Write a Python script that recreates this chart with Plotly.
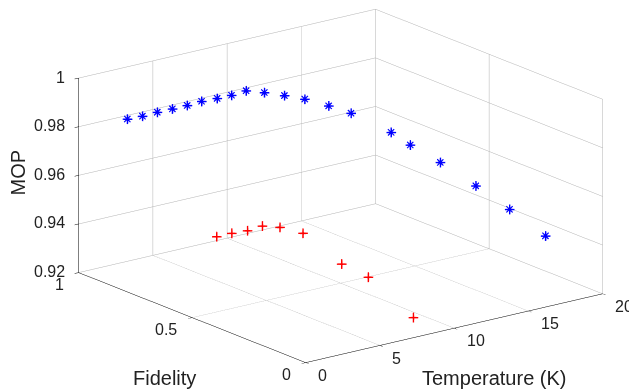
import plotly.graph_objects as go

# Blue series (*)
blue_T = [1, 2, 3, 4, 5, 6, 7, 8, 9, 10, 11, 12, 13, 14, 15, 16, 17, 18, 19, 20]
blue_F = [0.851, 0.850, 0.850, 0.849, 0.849, 0.851, 0.848, 0.850, 0.851, 0.836,
          0.813, 0.789, 0.749, 0.716, 0.605, 0.586, 0.519, 0.428, 0.345, 0.252]
blue_MOP = [0.9873, 0.9871, 0.9873, 0.9873, 0.9873, 0.9875, 0.9874, 0.9872, 0.9876, 0.9860,
            0.9842, 0.9822, 0.9795, 0.9763, 0.9711, 0.9652, 0.9591, 0.9514, 0.9434, 0.9345]

# Red series (+)
red_T = [1, 2, 3, 4, 5, 6, 7, 8, 9]
red_F = [0.458, 0.457, 0.453, 0.453, 0.441, 0.405, 0.300, 0.248, 0.115]
red_MOP = [0.9535, 0.9535, 0.9533, 0.9538, 0.9523, 0.9498, 0.9396, 0.9347, 0.9216]

T_ticks = [0, 5, 10, 15, 20]
T_labels = ["0", "5", "10", "15", "20"]
F_ticks = [0, 0.5, 1]
F_labels = ["0", "0.5", "1"]
MOP_ticks = [0.92, 0.94, 0.96, 0.98, 1]
MOP_labels = ["0.92", "0.94", "0.96", "0.98", "1"]

T_range = [0, 20]
F_range = [0, 1]
MOP_range = [0.92, 1]

TXT = "#222222"
FONT = "Liberation Sans"

fig = go.Figure()
fig.add_trace(go.Scatter3d(x=blue_T, y=blue_F, z=blue_MOP, mode="text", text=["+"] * len(blue_T),
                           textposition="middle center",
                           textfont=dict(size=20, color="blue", family=FONT),
                           hoverinfo="skip"))
fig.add_trace(go.Scatter3d(x=blue_T, y=blue_F, z=blue_MOP, mode="text", text=["×"] * len(blue_T),
                           textposition="middle center",
                           textfont=dict(size=16, color="blue", family=FONT),
                           hoverinfo="skip"))
fig.add_trace(go.Scatter3d(x=red_T, y=red_F, z=red_MOP, mode="text", text=["+"] * len(red_T),
                           textposition="middle center",
                           textfont=dict(size=20, color="red", family=FONT),
                           hoverinfo="skip"))

axis_common = dict(showbackground=False, gridcolor="rgb(178,178,178)", gridwidth=1,
                   showline=True, linecolor="black", linewidth=1, zeroline=False,
                   ticks="outside", ticklen=5, tickcolor="black", showspikes=False,
                   showticklabels=False, title=dict(text=""))

# tick labels placed MATLAB-style (horizontal, offset from the tick) at the tick values
tick_font = dict(family=FONT, size=16, color=TXT)
scene_ann = []
for v, s in zip(MOP_ticks, MOP_labels):
    scene_ann.append(dict(x=T_range[0], y=F_range[1], z=v, text=s, xanchor="right", yanchor="middle",
                          xshift=-12, yshift=1))
for v, s in zip(F_ticks, F_labels):
    scene_ann.append(dict(x=T_range[0], y=v, z=MOP_range[0], text=s, xanchor="right", yanchor="middle",
                          xshift=-13, yshift=-11.5))
for v, s in zip(T_ticks, T_labels):
    scene_ann.append(dict(x=v, y=F_range[0], z=MOP_range[0], text=s, xanchor="left", yanchor="middle",
                          xshift=10.5, yshift=-12.7))
for a in scene_ann:
    a.update(showarrow=False, font=tick_font)

K = 2.02 * 372 / 392 * 0.995
view_dir = (-0.5789, -0.7569, 0.3032)
cen = (-0.1154, 0.0687, -0.0490)
dist = 2.0
fig.update_layout(
    width=629, height=392,
    margin=dict(l=0, r=0, t=0, b=0),
    paper_bgcolor="white",
    showlegend=False,
    scene=dict(
        domain=dict(x=[0, 1.0], y=[0, 1.0]),
        xaxis=dict(range=T_range, tickvals=T_ticks, **axis_common),
        yaxis=dict(range=F_range, tickvals=F_ticks, **axis_common),
        zaxis=dict(range=MOP_range, tickvals=MOP_ticks, **axis_common),
        aspectmode="manual",
        aspectratio=dict(x=1 * K, y=1 * K, z=0.546 * K),
        camera=dict(eye=dict(x=cen[0] + dist * view_dir[0], y=cen[1] + dist * view_dir[1],
                             z=cen[2] + dist * view_dir[2]),
                    up=dict(x=0, y=0, z=1), center=dict(x=cen[0], y=cen[1], z=cen[2]),
                    projection=dict(type="orthographic")),
        annotations=scene_ann,
    ),
    annotations=[
        dict(text="Fidelity", x=164, y=378),
        dict(text="Temperature (K)", x=494.5, y=378),
        dict(text="MOP", x=17.5, y=173, textangle=-90),
    ],
)
# convert pixel positions of the axis-title annotations to paper fractions
for a in fig.layout.annotations:
    a.update(x=a.x / 629, y=1 - a.y / 392, xref="paper", yref="paper", showarrow=False,
             xanchor="center", yanchor="middle",
             font=dict(family=FONT, size=20, color=TXT))

fig.write_html("out.html", config={"displayModeBar": False},
               post_script="document.body.style.margin='0px';")
